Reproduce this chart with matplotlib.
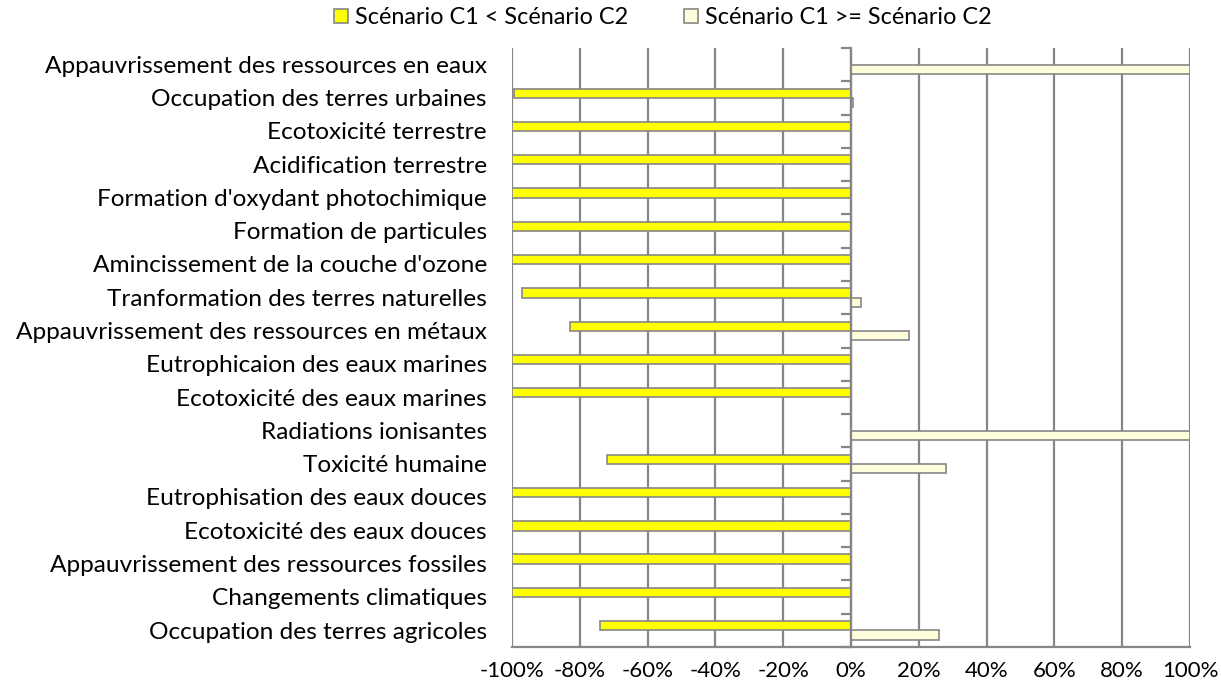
import matplotlib.pyplot as plt
import numpy as np

# === données ===
categories = [
    "Appauvrissement des ressources en eaux",
    "Occupation des terres urbaines",
    "Ecotoxicité terrestre",
    "Acidification terrestre",
    "Formation d'oxydant photochimique",
    "Formation de particules",
    "Amincissement de la couche d'ozone",
    "Tranformation des terres naturelles",
    "Appauvrissement des ressources en métaux",
    "Eutrophicaion des eaux marines",
    "Ecotoxicité des eaux marines",
    "Radiations ionisantes",
    "Toxicité humaine",
    "Eutrophisation des eaux douces",
    "Ecotoxicité des eaux douces",
    "Appauvrissement des ressources fossiles",
    "Changements climatiques",
    "Occupation des terres agricoles",
]
c1_inf_c2 = [0, -99.3, -100, -100, -100, -100, -100, -97, -83, -100, -100, 0, -72, -100, -100, -100, -100, -74]
c1_sup_c2 = [100, 0.7, 0, 0, 0, 0, 0, 3, 17, 0, 0, 100, 28, 0, 0, 0, 0, 26]
xticks = [-100, -80, -60, -40, -20, 0, 20, 40, 60, 80, 100]

plt.rcParams['font.family'] = ['Lato', 'DejaVu Sans']

fig = plt.figure(figsize=(12.21, 6.93), dpi=100)
ax = fig.add_axes([0.4193, 0.0664, 0.5553, 0.8643])

y = np.arange(len(categories))
h = 0.28
gris = '#868686'
ax.barh(y - h / 2, c1_inf_c2, height=h, color='#FFFF00', edgecolor=gris, linewidth=1.2,
        label="Scénario C1 < Scénario C2", zorder=3)
ax.barh(y + h / 2, c1_sup_c2, height=h, color='#FFFFDC', edgecolor=gris, linewidth=1.2,
        label="Scénario C1 >= Scénario C2", zorder=3)

ax.set_xlim(-100, 100)
ax.set_ylim(len(categories) - 0.5, -0.5)
ax.set_xticks(xticks)
ax.set_xticklabels([f"{v}%" for v in xticks], fontsize=16)
ax.tick_params(axis='x', length=0, pad=10)
ax.grid(axis='x', color=gris, linewidth=1.6, zorder=0)

# axe vertical sur 0 % avec graduations entre catégories
for s in ['top', 'right']:
    ax.spines[s].set_visible(False)
ax.spines['left'].set_position(('data', 0))
ax.spines['left'].set_color(gris)
ax.spines['left'].set_linewidth(1.6)
ax.spines['left'].set_zorder(4)
ax.spines['bottom'].set_color(gris)
ax.spines['bottom'].set_linewidth(1.6)
ax.set_yticks(np.arange(len(categories) + 1) - 0.5)
ax.set_yticklabels([])
ax.tick_params(axis='y', direction='out', length=7, width=1.6, color=gris)

for i, cat in enumerate(categories):
    ax.text(-0.037, i + 0.05, cat, transform=ax.get_yaxis_transform(), ha='right', va='center',
            fontsize=17.6)

fig.legend(loc='upper center', bbox_to_anchor=(0.543, 1.02), ncol=2, frameon=False,
           fontsize=16.8, handlelength=0.6, handleheight=0.6, handletextpad=0.3,
           columnspacing=2.4)

fig.savefig("out.png", dpi=100)
